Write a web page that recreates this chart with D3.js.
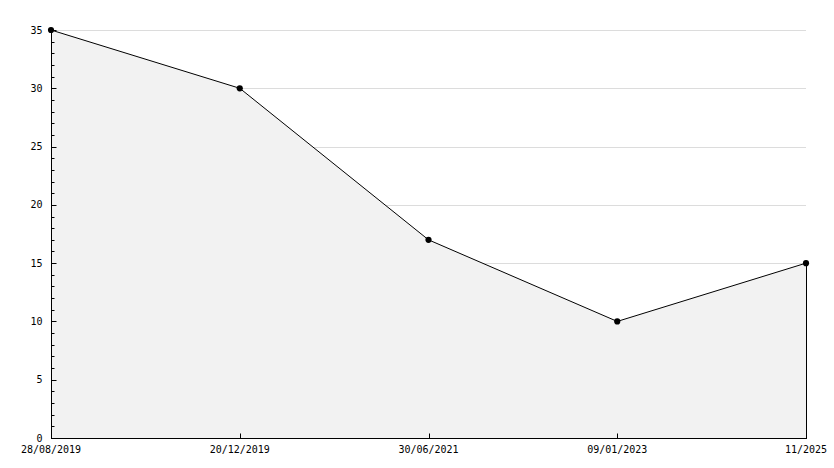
<!DOCTYPE html>
<html>
<head>
<meta charset="utf-8">
<script src="https://cdn.jsdelivr.net/npm/d3@7"></script>
<style>
  body { margin: 0; background: #fff; }
  text { font-family: "DejaVu Sans Mono", monospace; font-size: 10px; fill: #000; }
</style>
</head>
<body>
<div id="chart"></div>
<script>
// values
var labels = ["28/08/2019", "20/12/2019", "30/06/2021", "09/01/2023", "11/2025"];
var values = [35, 30, 17, 10, 15];
var yTicks = [0, 5, 10, 15, 20, 25, 30, 35];

var width = 834, height = 468;
var margin = { top: 30, right: 28, bottom: 30, left: 51 };

var svg = d3.select("#chart").append("svg")
    .attr("width", width).attr("height", height);

var x = d3.scalePoint()
    .domain(labels)
    .range([margin.left, width - margin.right]);
var y = d3.scaleLinear()
    .domain([0, 35])
    .range([height - margin.bottom, margin.top]);

var data = labels.map(function (d, i) { return { label: d, value: values[i] }; });

// grid
svg.append("g").selectAll("line")
    .data(yTicks.filter(function (d) { return d > 0; }))
    .enter().append("line")
    .attr("x1", margin.left).attr("x2", width - margin.right)
    .attr("y1", function (d) { return Math.round(y(d)) + 0.5; })
    .attr("y2", function (d) { return Math.round(y(d)) + 0.5; })
    .attr("stroke", "#dcdcdc");

// area
var area = d3.area()
    .x(function (d) { return x(d.label); })
    .y0(y(0))
    .y1(function (d) { return y(d.value); });
svg.append("path").datum(data)
    .attr("d", area)
    .attr("fill", "#f2f2f2");

// right border of area
svg.append("line")
    .attr("x1", x(labels[labels.length - 1]) + 0.5).attr("x2", x(labels[labels.length - 1]) + 0.5)
    .attr("y1", y(values[values.length - 1])).attr("y2", y(0))
    .attr("stroke", "#000");

// line
var line = d3.line()
    .x(function (d) { return x(d.label); })
    .y(function (d) { return y(d.value); });
svg.append("path").datum(data)
    .attr("d", line)
    .attr("fill", "none")
    .attr("stroke", "#000")
    .attr("stroke-width", 1);

// y axis
var yAxis = svg.append("g")
    .attr("transform", "translate(" + (margin.left + 0.5) + ",0)");
yAxis.append("line")
    .attr("x1", 0).attr("x2", 0)
    .attr("y1", y(35)).attr("y2", y(0) + 0.5)
    .attr("stroke", "#000");
yAxis.selectAll("line.minor")
    .data(d3.range(0, 36))
    .enter().append("line")
    .attr("class", "minor")
    .attr("x1", 0)
    .attr("x2", function (d) { return d % 5 === 0 ? 5 : 3; })
    .attr("y1", function (d) { return Math.round(y(d)) + 0.5; })
    .attr("y2", function (d) { return Math.round(y(d)) + 0.5; })
    .attr("stroke", "#000");
yAxis.selectAll("text")
    .data(yTicks)
    .enter().append("text")
    .attr("x", -9)
    .attr("y", function (d) { return y(d); })
    .attr("dy", "0.35em")
    .attr("text-anchor", "end")
    .text(function (d) { return d; });

// x axis
var xAxis = svg.append("g")
    .attr("transform", "translate(0," + (Math.round(y(0)) + 0.5) + ")");
xAxis.append("line")
    .attr("x1", margin.left).attr("x2", width - margin.right + 1)
    .attr("stroke", "#000");
xAxis.selectAll("line.tick")
    .data(labels)
    .enter().append("line")
    .attr("class", "tick")
    .attr("x1", function (d) { return Math.round(x(d)) + 0.5; })
    .attr("x2", function (d) { return Math.round(x(d)) + 0.5; })
    .attr("y1", 0).attr("y2", -5)
    .attr("stroke", "#000");
xAxis.selectAll("text")
    .data(labels)
    .enter().append("text")
    .attr("x", function (d) { return x(d); })
    .attr("y", 11)
    .attr("dy", "0.35em")
    .attr("text-anchor", "middle")
    .text(function (d) { return d; });

// markers
svg.append("g").selectAll("path")
    .data(data)
    .enter().append("path")
    .attr("transform", function (d) { return "translate(" + x(d.label) + "," + y(d.value) + ")"; })
    .attr("d", d3.symbol().type(d3.symbolCircle).size(30))
    .attr("fill", "#000");
</script>
</body>
</html>
